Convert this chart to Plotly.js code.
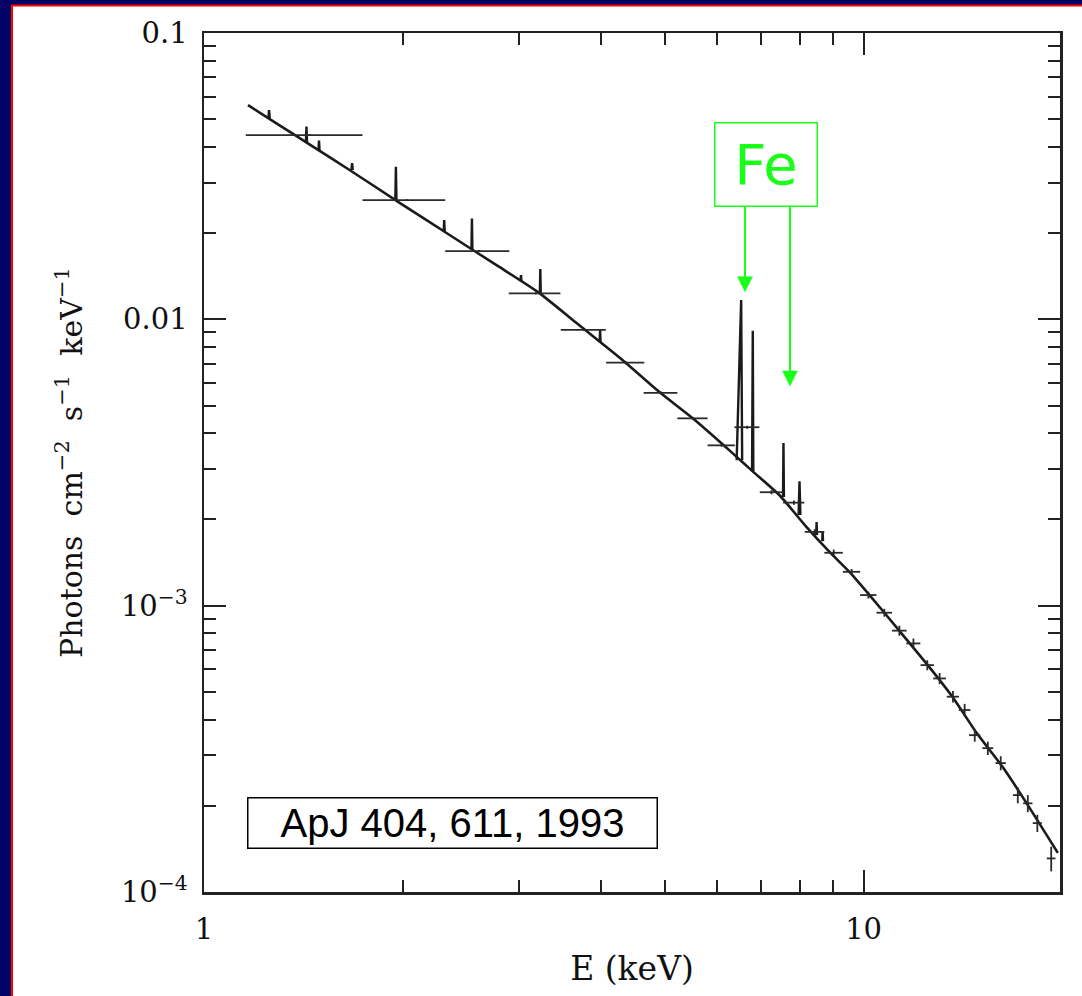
<!DOCTYPE html>
<html>
<head>
<meta charset="utf-8">
<script src="https://cdn.plot.ly/plotly-3.0.1.min.js"></script>
<style>html,body{margin:0;padding:0;background:#000066;}#chart{width:1082px;height:996px;}</style>
</head>
<body>
<div id="chart"></div>
<script>
// Model continuum (E in keV, photons cm^-2 s^-1 keV^-1)
const contE = [1.166, 1.300, 1.443, 1.660, 1.977, 2.354, 2.803, 3.224, 3.707, 4.309, 4.902, 5.502, 6.328, 6.785, 7.457, 8.196, 8.878, 9.524, 10.21, 11.34, 12.51, 13.65, 14.84, 16.25, 17.67, 19.70];
const contF = [0.0560, 0.0477, 0.0409, 0.0333, 0.02557, 0.01974, 0.01524, 0.01235, 0.00953, 0.00721, 0.00557, 0.00452, 0.00341, 0.00295, 0.00243, 0.00188, 0.00154, 0.00131, 0.001089, 0.000815, 0.000620, 0.000479, 0.000359, 0.000273, 0.000204, 0.000137];

// Emission lines in the model: energy, base-edge energies, base level, peak level
const lineE    = [1.255, 1.430, 1.494, 1.677, 1.954, 2.313, 2.548, 3.024, 3.235, 3.986, 6.522, 6.792, 7.560, 7.995, 8.487, 8.667];
const lineLo   = [1.252, 1.427, 1.491, 1.673, 1.950, 2.309, 2.544, 3.019, 3.230, 3.980, 6.420, 6.775, 7.548, 7.970, 8.475, 8.655];
const lineHi   = [1.258, 1.433, 1.497, 1.681, 1.958, 2.317, 2.552, 3.029, 3.240, 3.992, 6.545, 6.805, 7.572, 8.020, 8.499, 8.679];
const lineBase = [0.0503, 0.0414, 0.03878, 0.03323, 0.02602, 0.02026, 0.01754, 0.01361, 0.01235, 0.00833, 0.00322, 0.00294, 0.002394, 0.002072, 0.001764, 0.001681];
const linePeak = [0.0538, 0.0471, 0.0421, 0.0351, 0.0341, 0.0222, 0.0225, 0.01428, 0.01498, 0.00917, 0.01168, 0.00912, 0.00370, 0.00272, 0.00196, 0.00182];

// Measured spectrum bins
const dataE    = [1.448, 2.030, 2.612, 3.184, 3.770, 4.360, 4.930, 5.510, 6.090, 6.660, 7.250, 7.840, 8.430, 9.010, 9.590, 10.17, 10.75, 11.33, 11.90, 12.49, 13.04, 13.66, 14.23, 14.74, 15.43, 16.14, 17.13, 17.74, 18.34, 19.25];
const dataEerr = [0.291, 0.291, 0.291, 0.286, 0.296, 0.290, 0.290, 0.290, 0.290, 0.290, 0.290, 0.290, 0.290, 0.290, 0.290, 0.290, 0.290, 0.290, 0.290, 0.290, 0.290, 0.290, 0.290, 0.290, 0.290, 0.290, 0.290, 0.290, 0.290, 0.290];
const dataF    = [0.0440, 0.02610, 0.01732, 0.01232, 0.00918, 0.00706, 0.00554, 0.00451, 0.00363, 0.00420, 0.00249, 0.00229, 0.00181, 0.00153, 0.001313, 0.001089, 0.000945, 0.000818, 0.000738, 0.000620, 0.000557, 0.000481, 0.000432, 0.000353, 0.000318, 0.000282, 0.000218, 0.000204, 0.000174, 0.000131];
const dataFerr = [0.0003, 0.0002, 0.00015, 0.0001, 0.00008, 0.00007, 0.00006, 0.00005, 0.00004, 0.00005, 0.00004, 0.00004, 0.00004, 0.00004, 0.00003, 0.00003, 0.00003, 0.000033, 0.00003, 0.000025, 0.000025, 0.000022, 0.000022, 0.000018, 0.000017, 0.000016, 0.000014, 0.000014, 0.000012, 0.000013];

const xTickVals = [1, 10];
const xTickText = ['1', '10'];
const xMinorVals = [2, 3, 4, 5, 6, 7, 8, 9, 20];
const yTickVals = [1e-4, 1e-3, 1e-2, 1e-1];
const yTickText = ['10<sup>−4</sup>', '10<sup>−3</sup>', '0.01', '0.1'];
const yMinorVals = [2e-4, 3e-4, 4e-4, 5e-4, 6e-4, 7e-4, 8e-4, 9e-4, 2e-3, 3e-3, 4e-3, 5e-3, 6e-3, 7e-3, 8e-3, 9e-3, 2e-2, 3e-2, 4e-2, 5e-2, 6e-2, 7e-2, 8e-2, 9e-2];

const xAxisTitle = 'E (keV)';
const yAxisTitle = 'Photons&nbsp; cm<sup>−2</sup>&nbsp; s<sup>−1</sup>&nbsp; keV<sup>−1</sup>';
const refText = 'ApJ 404, 611, 1993';
const feText = 'Fe';

// Build spike segments
const spikeX = [], spikeY = [];
for (let i = 0; i < lineE.length; i++) {
  spikeX.push(lineLo[i], lineE[i], lineHi[i], null);
  spikeY.push(lineBase[i], linePeak[i], lineBase[i], null);
}

const ink = '#1a1a1a';
const green = '#1aff1a';

const traces = [
  {x: contE, y: contF, type: 'scatter', mode: 'lines', line: {color: ink, width: 2.6, shape: 'spline', smoothing: 0.6}, hoverinfo: 'skip'},
  {x: spikeX, y: spikeY, type: 'scatter', mode: 'lines', line: {color: ink, width: 2.4}, connectgaps: false, hoverinfo: 'skip'},
  {x: dataE, y: dataF, type: 'scatter', mode: 'markers', marker: {size: 1, color: ink},
   error_x: {type: 'data', array: dataEerr, visible: true, color: '#2a2a2a', thickness: 1.8, width: 0},
   error_y: {type: 'data', array: dataFerr, visible: true, color: '#2a2a2a', thickness: 1.8, width: 0}}
];

const L = 204, R = 1060, T = 33, B = 892;
const px = v => (v - L) / (R - L);
const py = v => (B - v) / (B - T);

const serif = 'DejaVu Serif, serif';

function arrowShapes(xp, yTop, yTip) {
  const head = 15, half = 7.5;
  return [
    {type: 'line', xref: 'paper', yref: 'paper', x0: px(xp), x1: px(xp), y0: py(yTop), y1: py(yTip - head + 2),
     line: {color: green, width: 2}},
    {type: 'path', xref: 'paper', yref: 'paper',
     path: 'M' + px(xp - half) + ',' + py(yTip - head) + ' L' + px(xp + half) + ',' + py(yTip - head) + ' L' + px(xp) + ',' + py(yTip) + ' Z',
     fillcolor: green, line: {color: green, width: 0.5}}
  ];
}

const layout = {
  width: 1082, height: 996,
  margin: {l: L, r: 1082 - R, t: T, b: 996 - B},
  paper_bgcolor: '#000066',
  plot_bgcolor: '#ffffff',
  showlegend: false,
  font: {family: serif, color: '#111', size: 28},
  xaxis: {
    type: 'log', range: [0, Math.log10(19.85)],
    tickmode: 'array', tickvals: xTickVals, ticktext: xTickText,
    ticks: 'inside', ticklen: 22, tickwidth: 2, tickcolor: '#222',
    minor: {tickmode: 'array', tickvals: xMinorVals, ticks: 'inside', ticklen: 12, tickwidth: 2, tickcolor: '#222', showgrid: false},
    showline: true, linecolor: '#222', linewidth: 2.5, mirror: 'ticks',
    showgrid: false, zeroline: false,
    tickfont: {family: serif, size: 29, color: '#111'},
    ticklabelstandoff: 10,
    title: {text: xAxisTitle, font: {family: serif, size: 33, color: '#111'}, standoff: 12}
  },
  yaxis: {
    type: 'log', range: [-4, -1],
    tickmode: 'array', tickvals: yTickVals, ticktext: yTickText,
    ticks: 'inside', ticklen: 22, tickwidth: 2, tickcolor: '#222',
    minor: {tickmode: 'array', tickvals: yMinorVals, ticks: 'inside', ticklen: 12, tickwidth: 2, tickcolor: '#222', showgrid: false},
    showline: true, linecolor: '#222', linewidth: 2.5, mirror: 'ticks',
    showgrid: false, zeroline: false,
    tickfont: {family: serif, size: 29, color: '#111'},
    ticklabelstandoff: 8,
    title: {text: yAxisTitle, font: {family: serif, size: 30, color: '#111'}, standoff: 30}
  },
  shapes: [
    {type: 'rect', xref: 'paper', yref: 'paper', layer: 'below',
     x0: px(12), x1: px(1110), y0: py(1010), y1: py(5.5),
     fillcolor: '#ffffff', line: {color: '#ff0000', width: 2}}
  ].concat(arrowShapes(745, 207, 291.7), arrowShapes(790, 207, 386)),
  annotations: [
    {xref: 'paper', yref: 'paper', x: px(452), y: py(822.5), xanchor: 'center', yanchor: 'middle',
     text: refText, showarrow: false, font: {family: 'Liberation Sans, Arial, sans-serif', size: 40, color: '#000'},
     bordercolor: '#000', borderwidth: 1.5, borderpad: 0, width: 408, height: 49, bgcolor: '#ffffff'},
    {xref: 'paper', yref: 'paper', x: px(766), y: py(164.2), xanchor: 'center', yanchor: 'middle',
     text: feText, showarrow: false, font: {family: 'DejaVu Sans, sans-serif', size: 56, color: green},
     bordercolor: green, borderwidth: 1.5, borderpad: 0, width: 101, height: 82}
  ]
};

Plotly.newPlot('chart', traces, layout, {displayModeBar: false, staticPlot: true});
</script>
</body>
</html>
